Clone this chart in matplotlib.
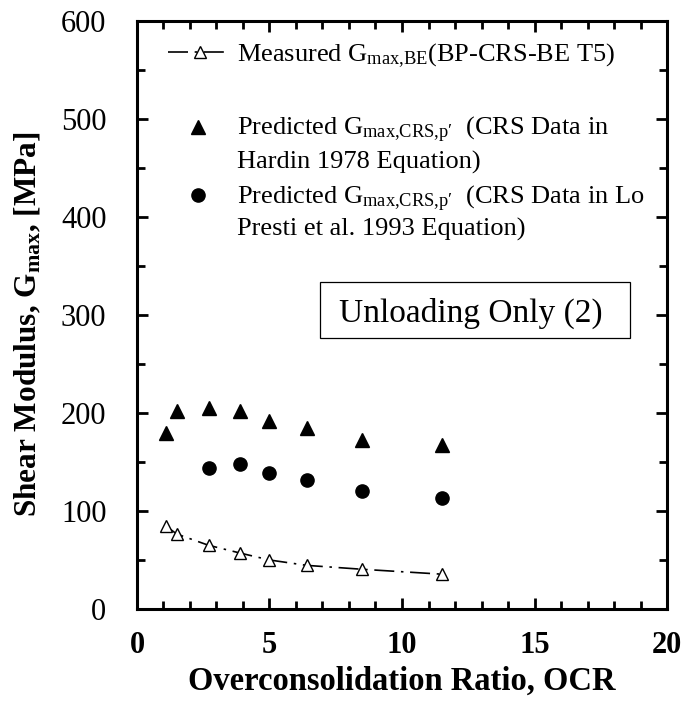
import matplotlib

matplotlib.use("Agg")

import matplotlib.pyplot as plt
from matplotlib.patches import Rectangle
from matplotlib.ticker import MultipleLocator

# values
ocr = [1.1, 1.5, 2.7, 3.9, 5.0, 6.4, 8.5, 11.5]
g_measured = [84.5, 76.5, 65.0, 57.0, 50.0, 44.5, 40.5, 35.5]
g_hardin = [180, 202, 205, 202, 192, 185, 172, 167]
ocr_lopresti = [2.7, 3.9, 5.0, 6.4, 8.5, 11.5]
g_lopresti = [143.5, 148, 139, 132, 120, 113.5]

plt.rcParams["font.family"] = ["Liberation Serif", "DejaVu Serif"]
plt.rcParams["mathtext.fontset"] = "custom"
plt.rcParams["mathtext.rm"] = "Liberation Serif"
plt.rcParams["mathtext.it"] = "Liberation Serif:italic"
plt.rcParams["mathtext.bf"] = "Liberation Serif:bold"

fig = plt.figure(figsize=(6.88, 7.04), dpi=100)
ax = fig.add_axes([0.1991, 0.135, 0.7704, 0.835])

dash = [12, 4, 1.5, 4]
ax.plot(ocr, g_measured, color="k", lw=1.2, dashes=dash, marker="^",
        mfc="white", mec="k", ms=9, mew=1.0)
ax.plot(ocr, g_hardin, ls="none", marker="^", color="k", ms=10)
ax.plot(ocr_lopresti, g_lopresti, ls="none", marker="o", color="k", ms=9.5)

ax.set_xlim(0, 20)
ax.set_ylim(0, 600)
ax.xaxis.set_major_locator(MultipleLocator(5))
ax.xaxis.set_minor_locator(MultipleLocator(1))
ax.yaxis.set_major_locator(MultipleLocator(100))
ax.yaxis.set_minor_locator(MultipleLocator(50))
ax.tick_params(which="both", direction="in", top=True, right=True, width=2)
ax.tick_params(which="major", length=8)
ax.tick_params(which="minor", length=6)
ax.tick_params(axis="x", labelsize=22, pad=16)
ax.tick_params(axis="y", labelsize=22, pad=22)
for lab in ax.get_xticklabels():
    lab.set_fontweight("bold")
for sp in ax.spines.values():
    sp.set_linewidth(2.2)

ax.set_xlabel("Overconsolidation Ratio, OCR", fontsize=23.5, fontweight="bold")
ax.set_ylabel(r"Shear Modulus, G$_{\bf max}$, [MPa]", fontsize=22.5, fontweight="bold")
ax.xaxis.set_label_coords(0.5, -0.097)
ax.yaxis.set_label_coords(-0.177, 0.485)

# hand-made legend
fs = 19
tx = 0.188
ax.plot([0.058, 0.176], [0.947, 0.947], transform=ax.transAxes, color="k",
        lw=1.2, dashes=dash, clip_on=False)
ax.plot([0.119], [0.947], transform=ax.transAxes, ls="none", marker="^",
        mfc="white", mec="k", ms=9, mew=1.0, clip_on=False)
ax.text(tx, 0.932, r"Measured G$_{\rm max{,}BE}$(BP-CRS-BE T5)", fontsize=fs,
        transform=ax.transAxes, va="baseline")

ax.plot([0.115], [0.820], transform=ax.transAxes, ls="none", marker="^",
        color="k", ms=10)
ax.text(tx, 0.805, r"Predicted G$_{\rm max{,}CRS{,}p\prime}$  (CRS Data in",
        fontsize=fs, transform=ax.transAxes, va="baseline")
ax.text(tx, 0.749, "Hardin 1978 Equation)", fontsize=fs,
        transform=ax.transAxes, va="baseline")

ax.plot([0.115], [0.704], transform=ax.transAxes, ls="none", marker="o",
        color="k", ms=9.5)
ax.text(tx, 0.689, r"Predicted G$_{\rm max{,}CRS{,}p\prime}$  (CRS Data in Lo",
        fontsize=fs, transform=ax.transAxes, va="baseline")
ax.text(tx, 0.635, "Presti et al. 1993 Equation)", fontsize=fs,
        transform=ax.transAxes, va="baseline")

ax.add_patch(Rectangle((0.345, 0.461), 0.585, 0.095, transform=ax.transAxes,
                       fill=False, lw=0.9, ec="k"))
ax.text(0.629, 0.503, "Unloading Only (2)", fontsize=24, ha="center",
        va="center", transform=ax.transAxes)

fig.savefig("out.png", dpi=100)
